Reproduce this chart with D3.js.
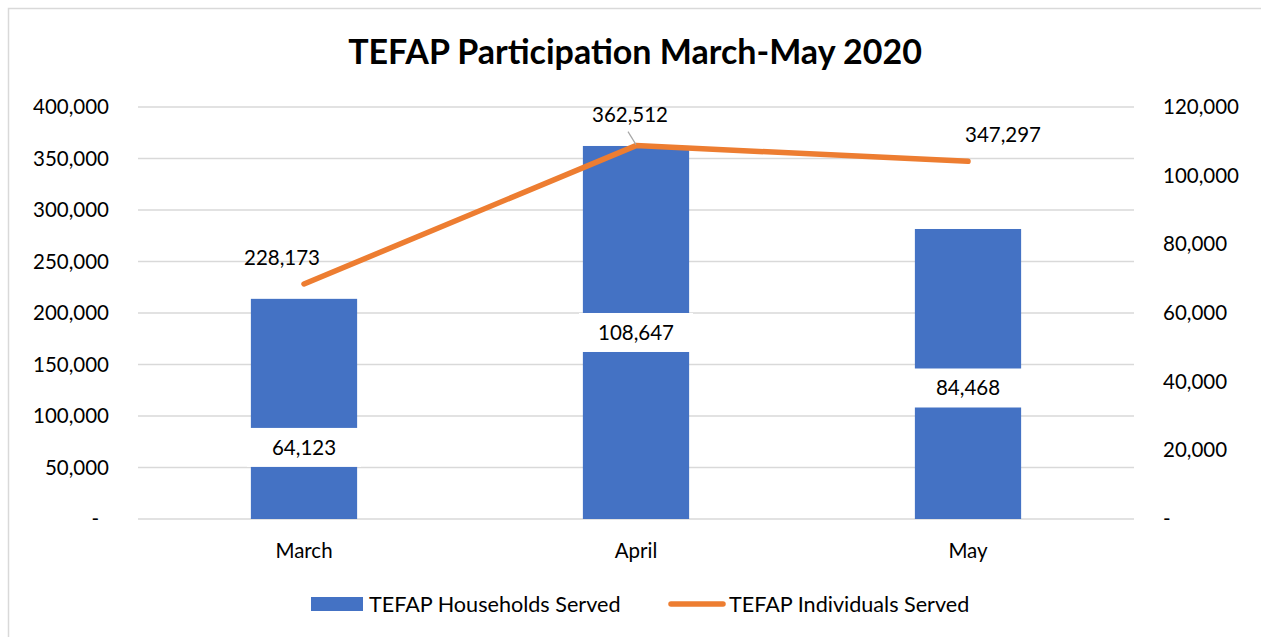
<!DOCTYPE html>
<html>
<head>
<meta charset="utf-8">
<script src="https://cdn.jsdelivr.net/npm/d3@7"></script>
<style>
  html, body { margin: 0; padding: 0; background: #fff; }
  svg { display: block; font-family: Lato, "Open Sans", sans-serif; }
</style>
</head>
<body>
<svg id="chart" width="1261" height="637"></svg>
<script>
// ---- data ----
const categories = ["March", "April", "May"];
const householdsServed = [64123, 108647, 84468];
const individualsServed = [228173, 362512, 347297];
const leftTicks = [0, 50000, 100000, 150000, 200000, 250000, 300000, 350000, 400000];
const rightTicks = [0, 20000, 40000, 60000, 80000, 100000, 120000];
const seriesNames = ["TEFAP Households Served", "TEFAP Individuals Served"];
const chartTitle = "TEFAP Participation March-May 2020";

// ---- layout ----
const W = 1261, H = 637;
const plot = { left: 138, right: 1134, top: 107, bottom: 519 };
const BLUE = "#4472C4", ORANGE = "#ED7D31", GRID = "#D9D9D9", TEXT = "#000";
const FS = 20.5;
const LEG_FS = 21.6;

const svg = d3.select("#chart");

// frame
svg.append("rect").attr("x", 8.5).attr("y", 8.5).attr("width", W + 20).attr("height", H + 20)
  .attr("fill", "#fff").attr("stroke", "#D9D9D9").attr("stroke-width", 1.5);

const x = d3.scaleBand().domain(categories).range([plot.left, plot.right])
  .paddingInner(0.68).paddingOuter(0.34);
const yL = d3.scaleLinear().domain([0, 400000]).range([plot.bottom, plot.top]);
const yR = d3.scaleLinear().domain([0, 120000]).range([plot.bottom, plot.top]);

const fmt = d3.format(",");

// title
svg.append("text").attr("x", 635).attr("y", 64).attr("text-anchor", "middle")
  .attr("font-weight", 700).attr("font-size", 34).attr("fill", TEXT).text(chartTitle);

// gridlines (left axis)
svg.append("g").selectAll("line").data(leftTicks).join("line")
  .attr("x1", plot.left).attr("x2", plot.right)
  .attr("y1", d => yL(d)).attr("y2", d => yL(d))
  .attr("stroke", GRID).attr("stroke-width", 1.5);

// left axis
const axL = svg.append("g").attr("transform", `translate(${plot.left},0)`)
  .call(d3.axisLeft(yL).tickValues(leftTicks).tickSize(0).tickPadding(29)
    .tickFormat(d => d === 0 ? "-" : fmt(d)));
axL.select(".domain").remove();
axL.selectAll("text").attr("font-size", FS).attr("font-family", "Lato").attr("fill", TEXT)
  .attr("dx", d => d === 0 ? -10 : 0);

// right axis
const axR = svg.append("g").attr("transform", `translate(${plot.right},0)`)
  .call(d3.axisRight(yR).tickValues(rightTicks).tickSize(0).tickPadding(29)
    .tickFormat(d => d === 0 ? "-" : fmt(d)));
axR.select(".domain").remove();
axR.selectAll("text").attr("font-size", FS).attr("font-family", "Lato").attr("fill", TEXT);

// category axis
const axB = svg.append("g").attr("transform", `translate(0,${plot.bottom})`)
  .call(d3.axisBottom(x).tickSize(0).tickPadding(24));
axB.select(".domain").remove();
axB.selectAll("text").attr("font-size", FS).attr("font-family", "Lato").attr("fill", TEXT);

// bars (secondary axis)
svg.append("g").selectAll("rect").data(categories).join("rect")
  .attr("x", d => x(d)).attr("width", x.bandwidth())
  .attr("y", (d, i) => yR(householdsServed[i]))
  .attr("height", (d, i) => yR(0) - yR(householdsServed[i]))
  .attr("fill", BLUE);

// line (primary axis)
const pts = categories.map((c, i) => [x(c) + x.bandwidth() / 2, yL(individualsServed[i])]);
svg.append("path").attr("d", d3.line()(pts)).attr("fill", "none")
  .attr("stroke", ORANGE).attr("stroke-width", 5.5)
  .attr("stroke-linecap", "round").attr("stroke-linejoin", "round");

// bar labels (white boxes), nudged as in the reference
const barNudge = [38.5, 0, 14];
const bl = svg.append("g").selectAll("g").data(categories).join("g")
  .attr("transform", (d, i) => {
    const cy = (yR(householdsServed[i]) + yR(0)) / 2 + barNudge[i];
    return `translate(${x(d) + x.bandwidth() / 2},${cy})`;
  });
bl.append("rect").attr("x", -57).attr("y", -19.5).attr("width", 114).attr("height", 39).attr("fill", "#fff");
bl.append("text").attr("text-anchor", "middle").attr("dy", "0.35em")
  .attr("font-size", FS).attr("fill", TEXT).text((d, i) => fmt(householdsServed[i]));

// line labels
const lineNudge = [[-22, -26], [-6, -31], [35, -26]];
// leader line for April
svg.append("line")
  .attr("x1", pts[1][0] - 8).attr("y1", pts[1][1] - 14)
  .attr("x2", pts[1][0]).attr("y2", pts[1][1] - 1)
  .attr("stroke", "#A6A6A6").attr("stroke-width", 1.2);
svg.append("g").selectAll("text").data(categories).join("text")
  .attr("x", (d, i) => pts[i][0] + lineNudge[i][0])
  .attr("y", (d, i) => pts[i][1] + lineNudge[i][1])
  .attr("text-anchor", "middle").attr("dy", "0.35em")
  .attr("font-size", FS).attr("fill", TEXT).text((d, i) => fmt(individualsServed[i]));

// legend
const lg = svg.append("g");
lg.append("rect").attr("x", 311).attr("y", 597).attr("width", 52).attr("height", 14).attr("fill", BLUE);
lg.append("text").attr("x", 369).attr("y", 604).attr("dy", "0.35em")
  .attr("font-size", LEG_FS).attr("fill", TEXT).text(seriesNames[0]);
lg.append("line").attr("x1", 671).attr("x2", 723).attr("y1", 604).attr("y2", 604)
  .attr("stroke", ORANGE).attr("stroke-width", 5.5).attr("stroke-linecap", "round");
lg.append("text").attr("x", 729).attr("y", 604).attr("dy", "0.35em")
  .attr("font-size", LEG_FS).attr("fill", TEXT).text(seriesNames[1]);
</script>
</body>
</html>
